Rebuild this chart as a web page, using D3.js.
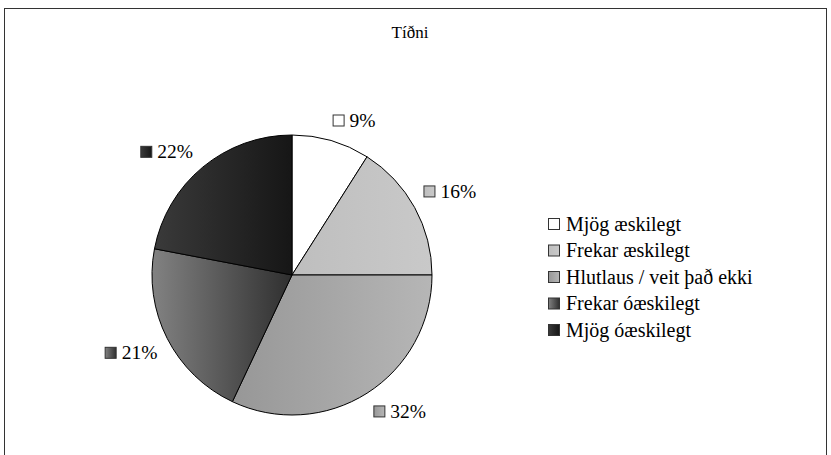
<!DOCTYPE html>
<html>
<head>
<meta charset="utf-8">
<script src="https://cdn.jsdelivr.net/npm/d3@7"></script>
<style>
  body { margin: 0; background: #fff; }
  svg text { font-family: 'Liberation Serif', serif; }
</style>
</head>
<body>
<div id="chart"></div>
<script>
// data
const title = 'Tíðni';
const categories = ['Mjög æskilegt', 'Frekar æskilegt', 'Hlutlaus / veit það ekki', 'Frekar óæskilegt', 'Mjög óæskilegt'];
const values = [9, 16, 32, 21, 22];
// gradient colours per slice (left -> right)
const gradLeft = ['#ffffff', '#bebebe', '#979797', '#828282', '#3a3a3a'];
const gradRight = ['#ffffff', '#c9c9c9', '#b6b6b6', '#2f2f2f', '#161616'];
// small angular nudges (degrees) the way the labels sit in the original
const labelNudge = [5.7, 0.9, -5.9, 1.2, -5.9];

const W = 831, H = 455;
const cx = 292, cy = 275, radius = 140;
const font = 'Liberation Serif';

const svg = d3.select('#chart').append('svg')
  .attr('width', W)
  .attr('height', H)
  .style('font-family', font);

svg.append('rect').attr('width', W).attr('height', H).attr('fill', '#fff');

// chart border (bottom edge runs off the picture)
svg.append('rect')
  .attr('x', 4.5).attr('y', 8.5)
  .attr('width', 822).attr('height', 470)
  .attr('fill', 'none')
  .attr('stroke', '#333')
  .attr('stroke-width', 1);

const defs = svg.append('defs');
categories.forEach((c, i) => {
  const g = defs.append('linearGradient')
    .attr('id', 'grad' + i)
    .attr('x1', 0).attr('y1', 0).attr('x2', 1).attr('y2', 0);
  g.append('stop').attr('offset', '0%').attr('stop-color', gradLeft[i]);
  g.append('stop').attr('offset', '100%').attr('stop-color', gradRight[i]);
});

svg.append('text')
  .attr('x', 410).attr('y', 38)
  .attr('text-anchor', 'middle')
  .style('font-family', font)
  .style('font-size', '17px')
  .text(title);

const pie = d3.pie().sort(null).value(d => d);
const arcs = pie(values);
const arc = d3.arc().innerRadius(0).outerRadius(radius);

const g = svg.append('g').attr('transform', `translate(${cx},${cy})`);

g.selectAll('path')
  .data(arcs)
  .join('path')
  .attr('d', arc)
  .attr('fill', (d, i) => `url(#grad${i})`)
  .attr('stroke', '#000')
  .attr('stroke-width', 1);

// outside end labels: square + percentage
const pad = 12;
const sw = 11;
arcs.forEach((d, i) => {
  const lab = g.append('g');
  lab.append('rect')
    .attr('x', 0.5).attr('y', -sw / 2)
    .attr('width', sw).attr('height', sw)
    .attr('fill', `url(#grad${i})`)
    .attr('stroke', '#333')
    .attr('stroke-width', 1);
  const t = lab.append('text')
    .attr('x', 17).attr('y', 6.5)
    .style('font-family', font)
    .style('font-size', '19.5px')
    .text(values[i] + '%');
  const w = 17 + t.node().getComputedTextLength();
  const h = 14;
  const a = (d.startAngle + d.endAngle) / 2 + labelNudge[i] * Math.PI / 180;
  const ux = Math.sin(a), uy = -Math.cos(a);
  const dist = radius + pad + (w / 2) * Math.abs(ux) + (h / 2) * Math.abs(uy);
  const lx = dist * ux - w / 2, ly = dist * uy;
  lab.attr('transform', `translate(${lx},${ly})`);
});

// legend
const legend = svg.append('g').attr('transform', 'translate(548,224)');
const rows = legend.selectAll('g')
  .data(categories)
  .join('g')
  .attr('transform', (d, i) => `translate(0,${i * 26.5})`);
rows.append('rect')
  .attr('x', 0.5).attr('y', -5.5)
  .attr('width', sw).attr('height', sw)
  .attr('fill', (d, i) => `url(#grad${i})`)
  .attr('stroke', '#333');
rows.append('text')
  .attr('x', 18).attr('y', 6.5)
  .style('font-family', font)
  .style('font-size', '20px')
  .text(d => d);
</script>
</body>
</html>
